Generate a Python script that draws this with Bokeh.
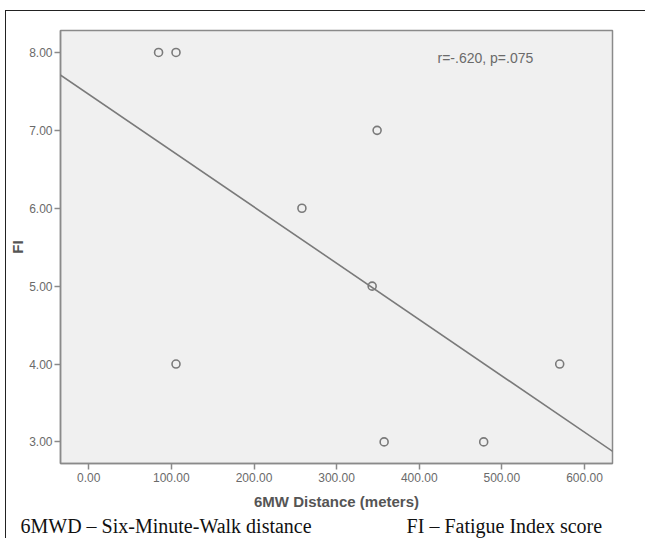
import numpy as np
from bokeh.plotting import figure
from bokeh.models import FixedTicker, NumeralTickFormatter, Label, Range1d, Slope, Title
from bokeh.embed import file_html
from bokeh.resources import INLINE

# Data
distance = [84.5, 105.6, 105.6, 258.0, 349.0, 343.0, 357.5, 478.0, 570.0]
fi_score = [8, 8, 4, 6, 7, 5, 3, 3, 4]
x_ticks = [0, 100, 200, 300, 400, 500, 600]
y_ticks = [3, 4, 5, 6, 7, 8]
stats_text = "r=-.620, p=.075"
caption_left = "6MWD \u2013 Six-Minute-Walk distance"
caption_right = "FI \u2013 Fatigue Index score"
x_label = "6MW Distance (meters)"
y_label = "FI"

GRAY = "#8a8a8a"
TXT = "#6a6a6a"

p = figure(width=640, height=528,
           x_range=Range1d(-34.2, 633.9), y_range=Range1d(2.723, 8.282),
           output_backend="svg", toolbar_location=None,
           min_border_left=53, min_border_top=19, min_border_right=34, min_border_bottom=76)
p.styles = {"border-left": "1.5px solid #222", "border-top": "1.5px solid #222",
            "margin-left": "5px", "margin-top": "10px"}

p.background_fill_color = "#f0f0f0"
p.border_fill_color = "white"
p.outline_line_color = GRAY
p.outline_line_width = 1.5
p.xgrid.visible = False
p.ygrid.visible = False

for ax, ticks in ((p.xaxis[0], x_ticks), (p.yaxis[0], y_ticks)):
    ax.ticker = FixedTicker(ticks=ticks)
    ax.formatter = NumeralTickFormatter(format="0.00")
    ax.axis_line_color = GRAY
    ax.axis_line_width = 1.5
    ax.major_tick_line_color = GRAY
    ax.major_tick_line_width = 1.5
    ax.major_tick_out = 6
    ax.major_tick_in = 0
    ax.minor_tick_out = 0
    ax.minor_tick_in = 0
    ax.major_label_text_font = "Liberation Sans"
    ax.major_label_text_font_size = "12px"
    ax.major_label_text_color = TXT
    ax.axis_label_text_font = "Liberation Sans"
    ax.axis_label_text_font_size = "15px"
    ax.axis_label_text_font_style = "bold"
    ax.axis_label_text_color = "#555555"

p.xaxis.axis_label = x_label
p.yaxis.axis_label = y_label
p.xaxis.major_label_standoff = 3
p.yaxis.major_label_standoff = 2
p.xaxis.axis_label_standoff = 8
p.yaxis.axis_label_standoff = 0

# least-squares fit line
m, b = np.polyfit(np.array(distance), np.array(fi_score, dtype=float), 1)
p.add_layout(Slope(gradient=m, y_intercept=b, line_color="#7a7a7a", line_width=1.6))

p.scatter(distance, fi_score, size=8, marker="circle", fill_color=None,
          line_color="#7a7a7a", line_width=1.6)

p.add_layout(Label(x=377, y=406, x_units="screen", y_units="screen", text=stats_text,
                   text_font="Liberation Sans", text_font_size="14px", text_color=TXT,
                   text_baseline="middle"))

caption = caption_left + "\u00a0" * 19 + caption_right
p.add_layout(Title(text=caption, align="left", offset=-40, standoff=0,
                   text_font="Liberation Serif", text_font_size="20px",
                   text_font_style="normal", text_color="#111111"), "below")

open("out.html", "w").write(file_html(p, INLINE))
